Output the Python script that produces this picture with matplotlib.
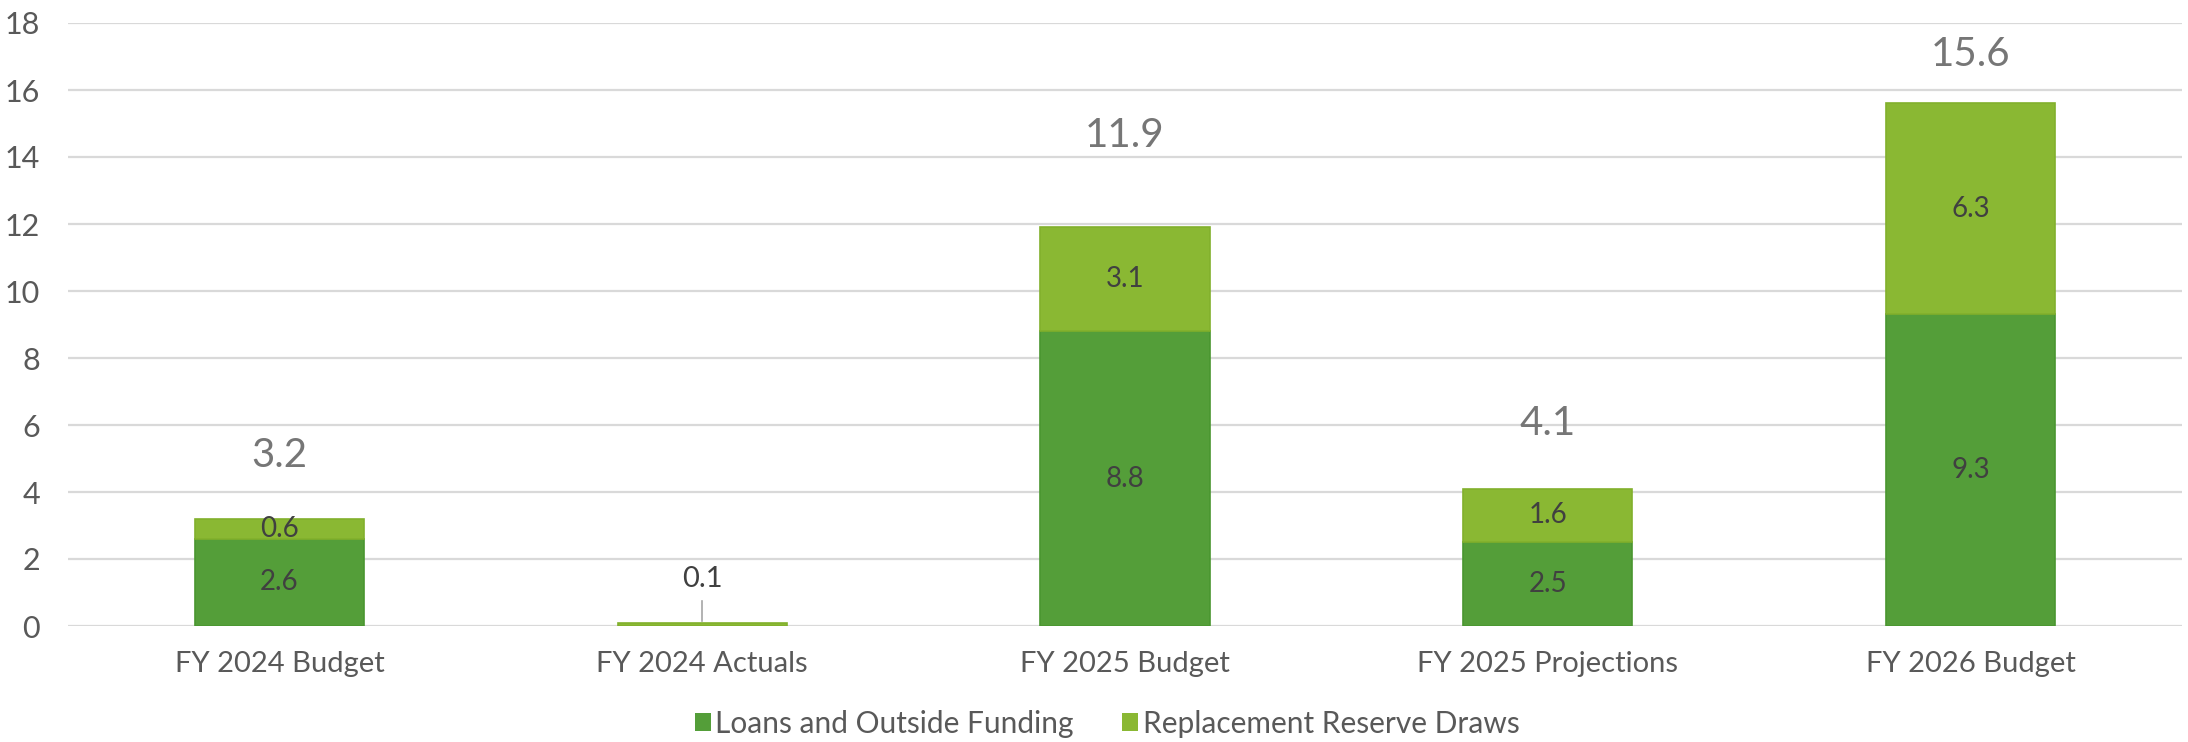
import matplotlib
matplotlib.use("Agg")
import matplotlib.pyplot as plt
from matplotlib.patches import Patch
import numpy as np

# Capital funding sources by budget period ($ millions)
categories = ["FY 2024 Budget", "FY 2024 Actuals", "FY 2025 Budget",
              "FY 2025 Projections", "FY 2026 Budget"]
loans_outside = [2.6, 0.0, 8.8, 2.5, 9.3]
reserve_draws = [0.6, 0.1, 3.1, 1.6, 6.3]
totals = [3.2, 0.1, 11.9, 4.1, 15.6]
y_ticks = [0, 2, 4, 6, 8, 10, 12, 14, 16, 18]

# vertical offset (in data units) of each total label above its bar
total_label_offsets = [1.9, 1.3, 2.75, 1.95, 1.45]

plt.rcParams['font.family'] = ['Lato', 'DejaVu Sans']

W, H = 2188, 742
fig = plt.figure(figsize=(W / 100, H / 100), dpi=100)
ax = fig.add_axes([68 / W, 1 - 626 / H, (2182 - 68) / W, (626 - 23) / H])

dark_green = "#549E39"
light_green = "#8AB833"
x = np.arange(len(categories))
width = 0.4

ax.bar(x, loans_outside, width, color=dark_green, edgecolor="#4A9630",
       linewidth=1.2, zorder=3, label="Loans and Outside Funding")
ax.bar(x, reserve_draws, width, bottom=loans_outside, color=light_green,
       edgecolor="#82B02C", linewidth=1.2, zorder=3,
       label="Replacement Reserve Draws")

seg_color = "#404040"
for i in range(len(categories)):
    if loans_outside[i] >= 0.5:
        ax.text(x[i], loans_outside[i] / 2, f"{loans_outside[i]:.1f}",
                ha="center", va="center", fontsize=20, color=seg_color, zorder=4)
    if reserve_draws[i] >= 0.5:
        ax.text(x[i], loans_outside[i] + reserve_draws[i] / 2,
                f"{reserve_draws[i]:.1f}", ha="center", va="center",
                fontsize=20, color=seg_color, zorder=4)

for i, t in enumerate(totals):
    fs = 29 if t >= 1 else 21
    col = "#767676" if t >= 1 else "#404040"
    ax.text(x[i], t + total_label_offsets[i], f"{t:.1f}", ha="center",
            va="center", fontsize=fs, color=col, zorder=4)

# leader line from the small total label down to its bar
ax.plot([x[1], x[1]], [totals[1] + 0.05, totals[1] + 0.65], color="#A6A6A6",
        linewidth=1.2, zorder=4)

ax.set_xlim(-0.5, len(categories) - 0.5)
ax.set_ylim(0, 18)
ax.set_yticks(y_ticks)
ax.set_xticks(x)
ax.set_xticklabels(categories)
ax.tick_params(axis="y", length=0, pad=20, labelsize=22, labelcolor="#595959")
ax.tick_params(axis="x", length=0, pad=18, labelsize=21, labelcolor="#595959")
ax.grid(axis="y", color="#D9D9D9", linewidth=1.6, zorder=0)
ax.set_axisbelow(True)
for s in ax.spines.values():
    s.set_visible(False)

handles = [Patch(facecolor=dark_green, edgecolor="none"),
           Patch(facecolor=light_green, edgecolor="none")]
fig.legend(handles, ["Loans and Outside Funding", "Replacement Reserve Draws"],
           loc="center", bbox_to_anchor=(1107 / W, 1 - 724 / H), ncol=2,
           frameon=False, fontsize=21.5, handlelength=0.55, handleheight=0.55,
           handletextpad=0.15, columnspacing=1.6, labelcolor="#595959")

fig.savefig("out.png", dpi=100, facecolor="white")
